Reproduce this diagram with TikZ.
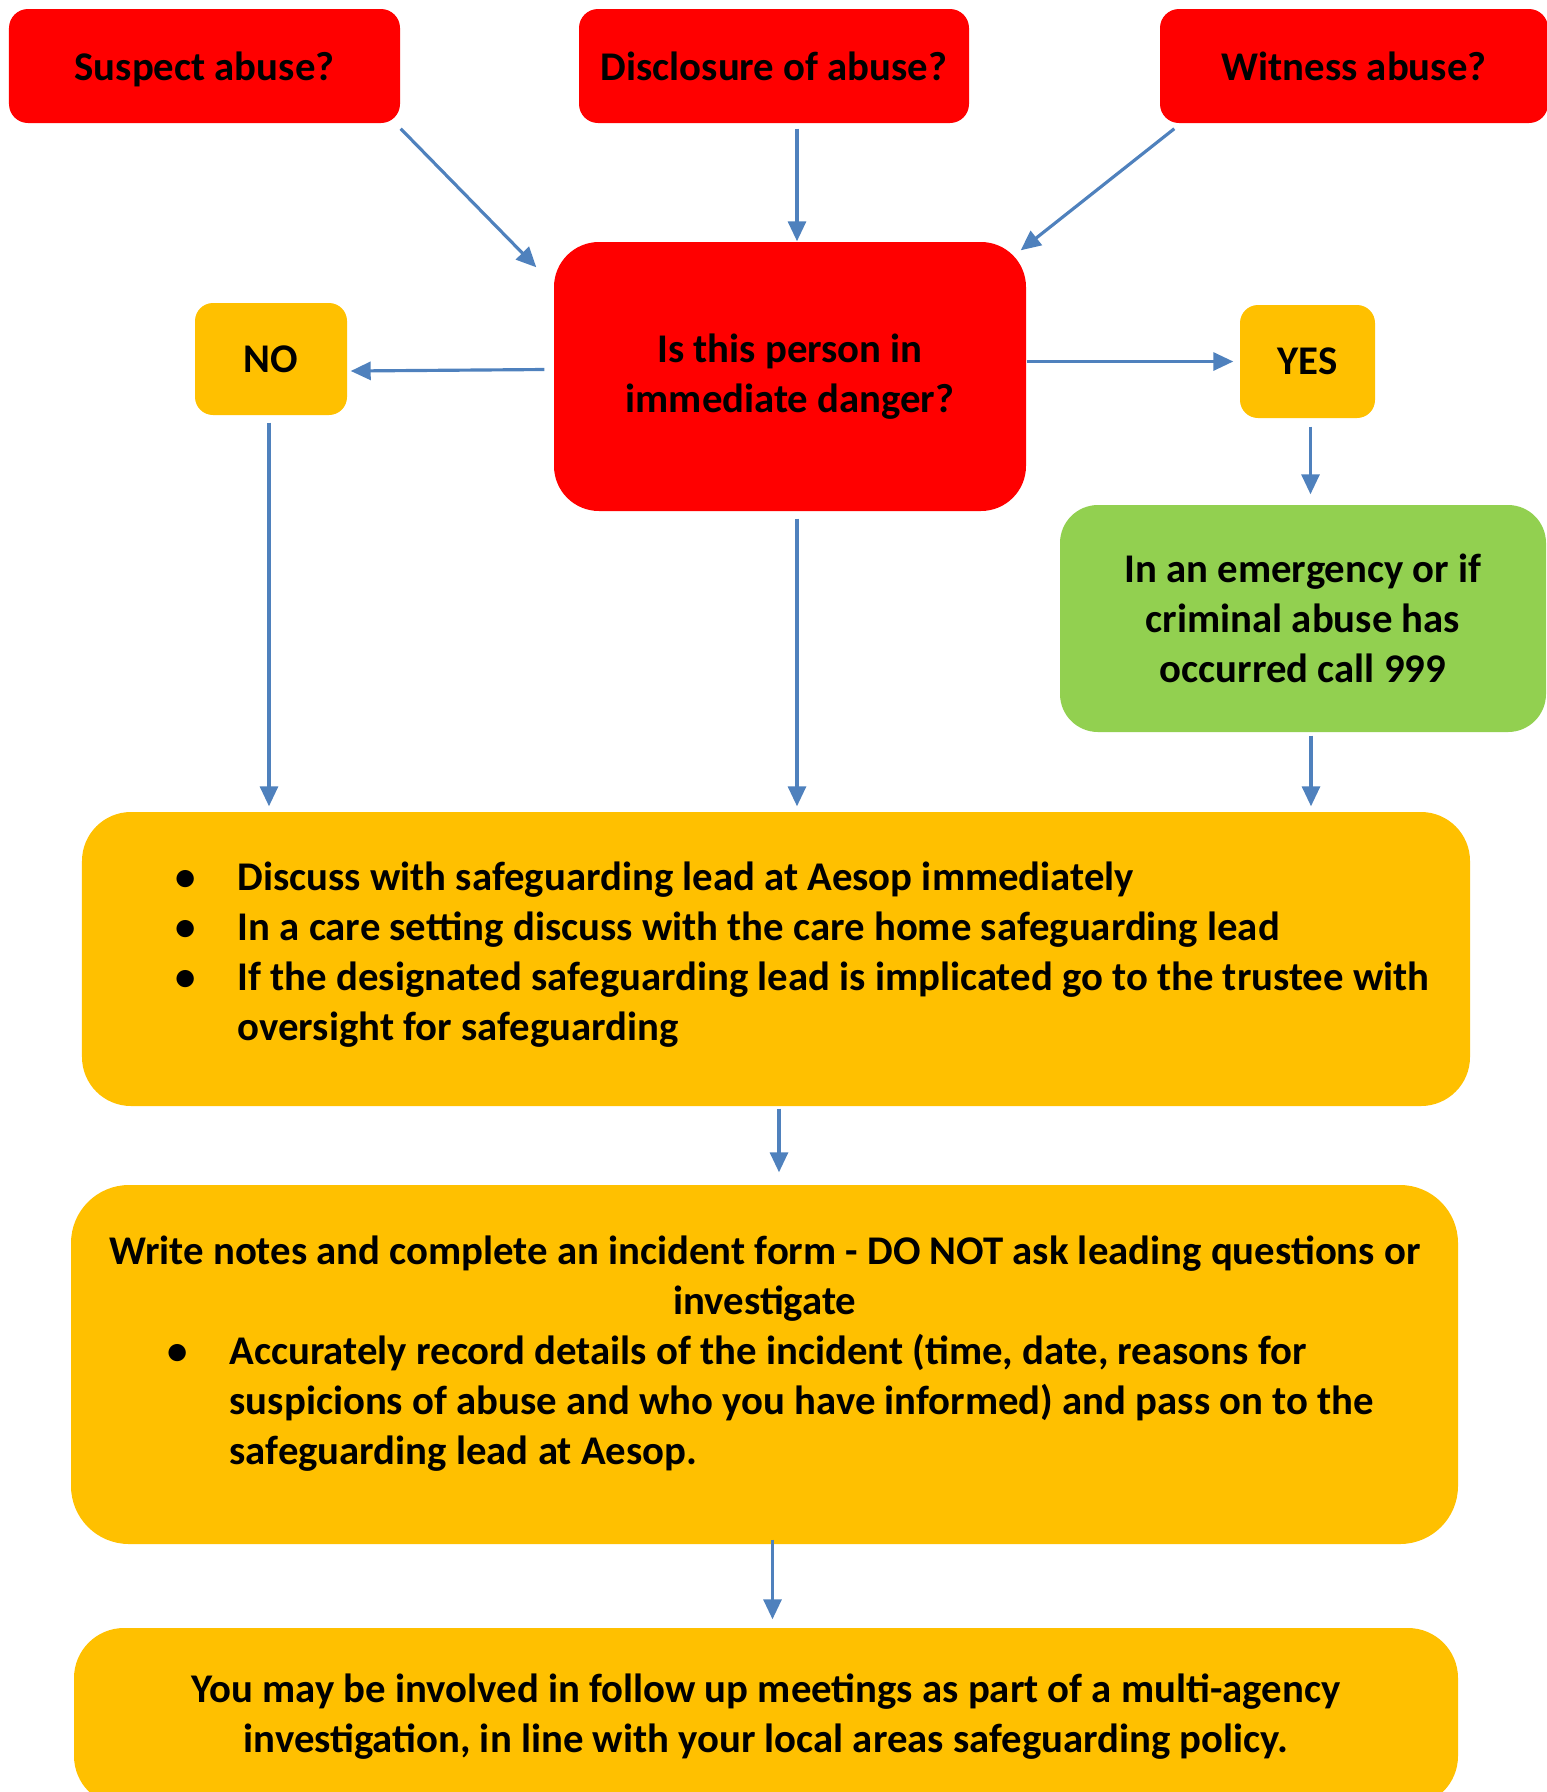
\documentclass[tikz,border=0pt]{standalone}
\usepackage{fontspec}
\setmainfont{Carlito}
\usetikzlibrary{arrows.meta}

\definecolor{alarmred}{HTML}{FF0000}
\definecolor{amber}{HTML}{FFC000}
\definecolor{callgreen}{HTML}{92D050}
\definecolor{flowblue}{HTML}{4F81BD}

% bullet line and its hanging continuation
\newcommand{\bulletline}[1]{\makebox[0.62cm][l]{\textbullet}#1}
\newcommand{\hangline}[1]{\hspace*{0.62cm}#1}

\begin{document}
\begin{tikzpicture}[
  font=\fontsize{11.6}{14.2}\selectfont\bfseries,
  redbox/.style={fill=alarmred, inner sep=0pt, align=center},
  entrybox/.style={redbox, rounded corners=0.19cm, minimum height=1.14cm,
    text height=0.9em, text depth=0.08em},
  amberbox/.style={fill=amber, inner sep=0pt, align=center},
  greenbox/.style={fill=callgreen, inner sep=0pt, align=center},
  boxtext/.style={inner sep=0pt, align=left},
  flow/.style={flowblue, line width=0.9pt, -{Triangle[length=0.2cm, width=0.18cm]}}
]
  \useasboundingbox (0,0) rectangle (15.46,-17.92);

  % The three ways a concern reaches us
  \node[entrybox, minimum width=3.91cm] (suspect) at (2.045,-0.66) {Suspect abuse?};
  \node[entrybox, minimum width=3.90cm] (disclosure) at (7.74,-0.66) {Disclosure of abuse?};
  \node[entrybox, minimum width=3.88cm] (witness) at (13.54,-0.66) {Witness abuse?};

  % The central question
  \node[redbox, rounded corners=0.45cm, minimum width=4.72cm, minimum height=2.69cm]
    (danger) at (7.90,-3.765) {Is this person in\\immediate danger?};

  % Answers
  \node[amberbox, rounded corners=0.18cm, minimum width=1.52cm, minimum height=1.12cm]
    (NO) at (2.71,-3.59) {NO};
  \node[amberbox, rounded corners=0.18cm, minimum width=1.35cm, minimum height=1.13cm]
    (YES) at (13.075,-3.615) {YES};
  \node[greenbox, rounded corners=0.38cm, minimum width=4.86cm, minimum height=2.27cm]
    (call999) at (13.03,-6.185) {In an emergency or if\\criminal abuse has\\occurred call 999};

  % Steps that everyone follows
  \node[amberbox, rounded corners=0.49cm, minimum width=13.88cm, minimum height=2.94cm]
    (discuss) at (7.76,-9.59) {};
  \node[boxtext, anchor=west] (discusstext) at (1.75,-9.545) {%
    \bulletline{Discuss with safeguarding lead at Aesop immediately}\\
    \bulletline{In a care setting discuss with the care home safeguarding lead}\\
    \bulletline{If the designated safeguarding lead is implicated go to the trustee with}\\
    \hangline{oversight for safeguarding}};

  \node[amberbox, rounded corners=0.58cm, minimum width=13.87cm, minimum height=3.59cm]
    (form) at (7.645,-13.645) {};
  \node[boxtext, align=center] (formhead) at (7.65,-12.79)
    {Write notes and complete an incident form - DO NOT ask leading questions or\\investigate};
  \node[boxtext, anchor=west] (formlist) at (1.67,-14.03) {%
    \bulletline{Accurately record details of the incident (time, date, reasons for}\\
    \hangline{suspicions of abuse and who you have informed) and pass on to the}\\
    \hangline{safeguarding lead at Aesop.}};

  \node[amberbox, rounded corners=0.5cm, minimum width=13.84cm, minimum height=1.78cm]
    (meetings) at (7.66,-17.17)
    {You may be involved in follow up meetings as part of a multi-agency\\
     investigation, in line with your local areas safeguarding policy.};

  % Connectors
  \draw[flow] ([shift={(0,-0.05)}]suspect.south east) -- ([shift={(-0.17,-0.26)}]danger.north west);
  \draw[flow] ([shift={(0.07,-0.05)}]disclosure.south -| danger.north) -- ([xshift=0.07cm]danger.north);
  \draw[flow] ([shift={(0.15,-0.05)}]witness.south west) -- ([shift={(-0.06,-0.09)}]danger.north east);

  \draw[flow] ([shift={(-0.09,0.07)}]danger.west) -- ([shift={(0.03,-0.12)}]NO.east);
  \draw[flow] (danger.east |- YES.west) -- ([xshift=-0.06cm]YES.west);
  \draw[flow] ([shift={(0.03,-0.08)}]YES.south) -- ([shift={(0.03,0.1)}]call999.north -| YES.south);

  \draw[flow] ([shift={(-0.02,-0.07)}]NO.south) -- ([shift={(-0.02,0.05)}]discuss.north -| NO.south);
  \draw[flow] ([shift={(0.07,-0.07)}]danger.south) -- ([shift={(0.07,0.05)}]discuss.north -| danger.south);
  \draw[flow] ([shift={(0.08,-0.03)}]call999.south) -- ([shift={(0.08,0.05)}]discuss.north -| call999.south);

  \draw[flow] ([shift={(0.03,-0.02)}]discuss.south) -- ([shift={(0.03,0.12)}]form.north -| discuss.south);
  \draw[flow] ([shift={(0.08,0.05)}]form.south) -- ([shift={(0.08,0.08)}]meetings.north -| form.south);

\end{tikzpicture}
\end{document}
